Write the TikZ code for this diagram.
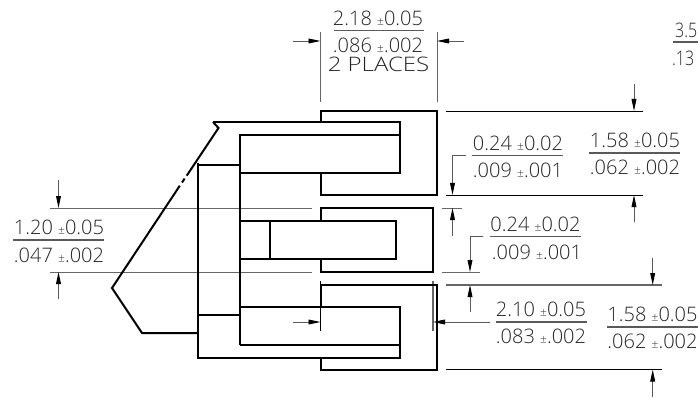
\documentclass[tikz,border=0pt]{standalone}
\usepackage{fontspec}
\usetikzlibrary{arrows.meta}
\setmainfont{Open Sans Light}
\newcommand{\pmsm}{{\fontsize{12}{12}\selectfont ±}}
\tikzset{
  part/.style={line width=2pt,black,line join=miter},
  ext/.style={line width=0.9pt,black!60},
  dim/.style={line width=0.9pt,black!65,-{Triangle[length=12pt,width=4.8pt,black]}},
  dimtext/.style={inner sep=0pt,font=\fontsize{20}{20}\selectfont,text=black!85,anchor=center},
  frac/.style={line width=1.2pt,black!65}
}
\begin{document}
\begin{tikzpicture}[x=1pt,y=-1pt]
\useasboundingbox (0,0) rectangle (698,398);
% extension lines
\draw[ext] (50,208) -- (312,208);
\draw[ext] (50,272) -- (312,272);
\draw[ext] (320.5,32) -- (320.5,102);
\draw[ext] (437,32) -- (437,102);
\draw[ext,black] (446,111) -- (643,111);
\draw[ext,black] (446,195) -- (643,195);
\draw[ext] (442,208) -- (462,208);
\draw[ext] (442,272) -- (480,272);
\draw[line width=1.5pt,black!60] (446,285) -- (662,285);
\draw[ext,black] (446,369.5) -- (662,369.5);
\draw[ext,black] (320.5,281) -- (320.5,331);
\draw[line width=1.3pt,black!60] (433,281) -- (433,331);
% part outline
\draw[part] (213,122) -- (400,122) -- (400,173) -- (240,173);
\draw[part] (213,122) -- (218.5,128) -- (186.7,175.7);
\draw[part] (184.6,178.6) -- (182,182.5);
\draw[part] (179.8,185.7) -- (112,288) -- (142,333) -- (198,333);
\draw[part] (198,163) -- (198,358) -- (400,358) -- (400,307) -- (240,307);
\draw[part] (198,165) -- (240,165);
\draw[part] (198,315) -- (240,315);
\draw[part] (240,345) -- (400,345);
\draw[part] (400,135) -- (240,135) -- (240,345);
\draw[part] (240,221) -- (396,221) -- (396,259) -- (240,259);
\draw[part] (270,221) -- (270,259);
\draw[part] (320.5,122) -- (320.5,111) -- (437,111) -- (437,195) -- (320.5,195) -- (320.5,173);
\draw[part] (320.5,221) -- (320.5,208) -- (433,208) -- (433,272) -- (320.5,272) -- (320.5,259);
\draw[part] (320.5,307) -- (320.5,285) -- (437,285) -- (437,370) -- (320.5,370) -- (320.5,358);
% dimension arrows
\draw[dim] (293,41) -- (320.5,41);
\draw[dim] (464,41) -- (437,41);
\draw[dim] (58.5,180) -- (58.5,208);
\draw[dim] (58.5,299) -- (58.5,272);
\draw[dim] (634,84) -- (634,111);
\draw[dim] (634,222) -- (634,195);
\draw[dim] (466,155.5) -- (452.5,155.5) -- (452.5,195);
\draw[dim] (452.5,236) -- (452.5,208);
\draw[dim] (483,236.5) -- (470,236.5) -- (470,272);
\draw[dim] (470,312) -- (470,285);
\draw[dim] (652.7,258) -- (652.7,285);
\draw[dim] (652.7,397) -- (652.7,369.5);
\draw[dim] (293,322) -- (320.5,322);
\draw[dim] (490,322) -- (433,322);
% labels
\node[dimtext] (a1) at (378,18) {2.18 \pmsm 0.05};
\draw[frac] (334,30.5) -- (424,30.5);
\node[dimtext] (a2) at (378,45) {.086 \pmsm .002};
\node[dimtext,xscale=1.2] (a3) at (378.5,64) {2 PLACES};
\node[dimtext,anchor=west,xscale=0.8] (b1) at (675,30) {3.5};
\draw[frac] (673,42) -- (698,42);
\node[dimtext,anchor=west,xscale=0.8] (b2) at (672,58) {.13};
\node[dimtext] (c1) at (59,227) {1.20 \pmsm 0.05};
\draw[frac] (13,240) -- (104,240);
\node[dimtext] (c2) at (59,255) {.047 \pmsm .002};
\node[dimtext] (d1) at (518,143) {0.24 \pmsm 0.02};
\draw[frac] (472,155.5) -- (563,155.5);
\node[dimtext] (d2) at (518,170.5) {.009 \pmsm .001};
\node[dimtext] (e1) at (635,140) {1.58 \pmsm 0.05};
\draw[frac] (589,153) -- (680,153);
\node[dimtext] (e2) at (635,167) {.062 \pmsm .002};
\node[dimtext] (f1) at (535.5,224) {0.24 \pmsm 0.02};
\draw[frac] (490,236.5) -- (581,236.5);
\node[dimtext] (f2) at (537,252) {.009 \pmsm .001};
\node[dimtext] (g1) at (541,309) {2.10 \pmsm 0.05};
\draw[frac] (496,322) -- (587,322);
\node[dimtext] (g2) at (541,336) {.083 \pmsm .002};
\node[dimtext] (h1) at (652.5,314) {1.58 \pmsm 0.05};
\draw[frac] (607,327) -- (698,327);
\node[dimtext] (h2) at (652.5,341) {.062 \pmsm .002};
\end{tikzpicture}
\end{document}
